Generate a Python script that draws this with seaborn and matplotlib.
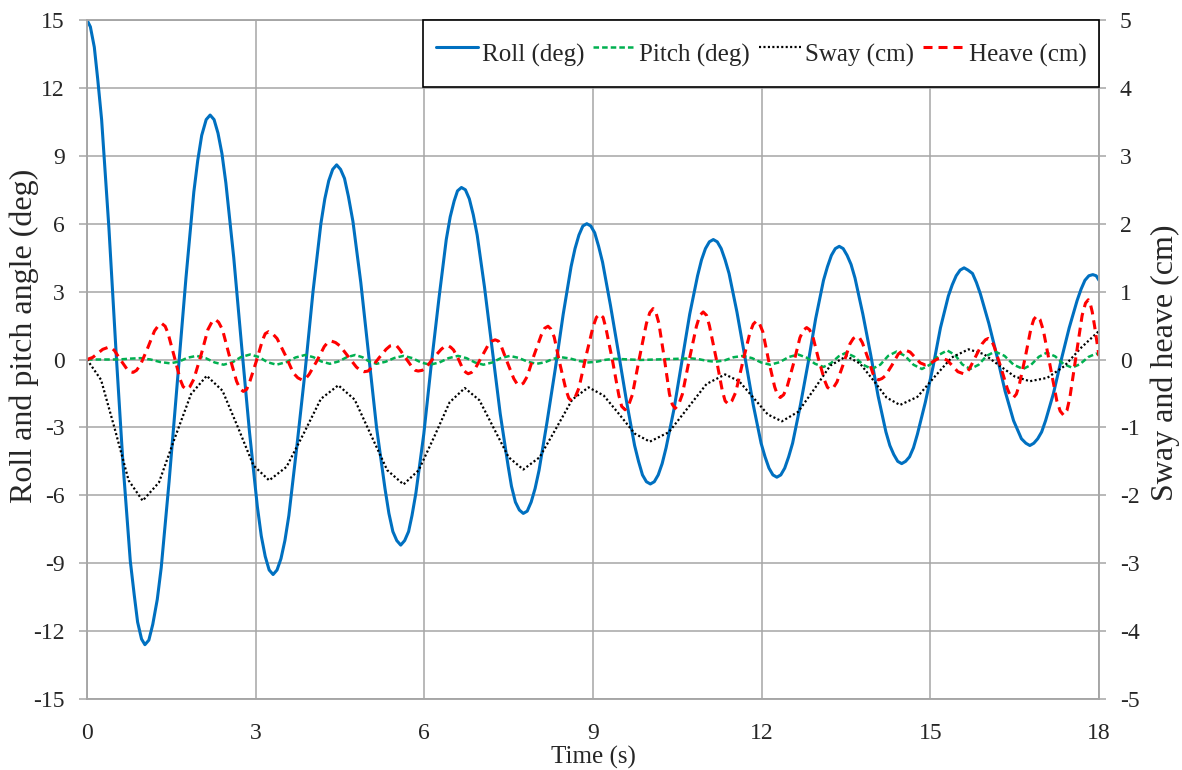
import matplotlib
matplotlib.use("Agg")
import matplotlib.pyplot as plt
import seaborn as sns

# Roll (deg), left axis
roll_t = [0,
          0.06, 0.13, 0.19, 0.26, 0.39, 0.52, 0.64, 0.77, 0.84, 0.90, 0.97, 1.03,
          1.10, 1.17, 1.25, 1.32, 1.46, 1.61, 1.76, 1.90, 1.97, 2.04, 2.12, 2.19,
          2.26, 2.33, 2.40, 2.47, 2.61, 2.75, 2.89, 3.03, 3.10, 3.17, 3.24, 3.31,
          3.38, 3.45, 3.52, 3.59, 3.73, 3.88, 4.02, 4.16, 4.23, 4.30, 4.37, 4.44,
          4.51, 4.58, 4.65, 4.73, 4.87, 5.01, 5.15, 5.30, 5.37, 5.44, 5.51, 5.58,
          5.65, 5.72, 5.78, 5.85, 5.99, 6.12, 6.26, 6.39, 6.46, 6.53, 6.59, 6.66,
          6.73, 6.80, 6.87, 6.94, 7.07, 7.21, 7.35, 7.49, 7.55, 7.62, 7.69, 7.76,
          7.83, 7.90, 7.97, 8.04, 8.18, 8.33, 8.47, 8.61, 8.68, 8.75, 8.82, 8.89,
          8.96, 9.03, 9.10, 9.17, 9.31, 9.46, 9.60, 9.74, 9.81, 9.88, 9.95, 10.02,
          10.09, 10.16, 10.23, 10.30, 10.44, 10.58, 10.72, 10.86, 10.93, 11.00, 11.07, 11.14,
          11.21, 11.28, 11.35, 11.42, 11.56, 11.71, 11.85, 11.99, 12.06, 12.13, 12.20, 12.27,
          12.34, 12.41, 12.48, 12.55, 12.69, 12.83, 12.96, 13.10, 13.17, 13.24, 13.31, 13.38,
          13.45, 13.52, 13.59, 13.66, 13.80, 13.94, 14.07, 14.21, 14.28, 14.35, 14.42, 14.49,
          14.56, 14.63, 14.70, 14.77, 14.91, 15.05, 15.18, 15.32, 15.39, 15.46, 15.53, 15.60,
          15.67, 15.75, 15.82, 15.89, 16.04, 16.19, 16.33, 16.48, 16.55, 16.62, 16.70, 16.77,
          16.84, 16.91, 16.98, 17.05, 17.19, 17.33, 17.47, 17.61, 17.68, 17.75, 17.82, 17.89,
          17.95, 18.00]
roll_deg = [15.0,
            14.7, 13.8, 12.4, 10.6, 5.8, 0.2, -4.6, -8.9, -10.4, -11.6, -12.35, -12.6,
            -12.4, -11.7, -10.6, -9.2, -5.4, -0.9, 3.6, 7.4, 8.8, 9.9, 10.6, 10.8,
            10.6, 10.0, 9.1, 7.8, 4.5, 0.6, -3.2, -6.5, -7.8, -8.7, -9.3, -9.5,
            -9.3, -8.8, -8.0, -6.9, -3.9, -0.5, 3.0, 6.0, 7.1, 7.9, 8.4, 8.6,
            8.4, 8.0, 7.2, 6.1, 3.4, 0.2, -3.0, -5.7, -6.8, -7.6, -8.0, -8.2,
            -8.0, -7.6, -6.9, -5.9, -3.3, -0.3, 2.7, 5.3, 6.3, 7.0, 7.45, 7.6,
            7.5, 7.1, 6.4, 5.5, 3.2, 0.4, -2.4, -4.7, -5.6, -6.3, -6.65, -6.8,
            -6.7, -6.3, -5.7, -4.9, -2.8, -0.4, 2.0, 4.1, 4.9, 5.5, 5.9, 6.0,
            5.9, 5.6, 5.0, 4.3, 2.4, 0.2, -1.9, -3.8, -4.5, -5.1, -5.4, -5.5,
            -5.4, -5.1, -4.6, -3.9, -2.2, -0.1, 2.0, 3.7, 4.4, 4.9, 5.2, 5.3,
            5.2, 4.9, 4.4, 3.8, 2.1, 0.0, -2.0, -3.7, -4.3, -4.8, -5.1, -5.2,
            -5.1, -4.8, -4.3, -3.7, -2.0, -0.1, 1.8, 3.5, 4.1, 4.6, 4.9, 5.0,
            4.9, 4.6, 4.2, 3.6, 2.0, 0.2, -1.6, -3.2, -3.8, -4.2, -4.5, -4.6,
            -4.5, -4.3, -3.9, -3.3, -1.9, -0.3, 1.4, 2.8, 3.3, 3.7, 3.95, 4.05,
            3.95, 3.8, 3.4, 2.9, 1.6, 0.1, -1.4, -2.7, -3.1, -3.5, -3.7, -3.8,
            -3.7, -3.5, -3.2, -2.7, -1.5, 0.0, 1.4, 2.6, 3.1, 3.5, 3.7, 3.75,
            3.7, 3.5]

# Pitch (deg), left axis
pitch_t = [0, 0.45, 0.62, 0.78, 0.95, 1.13, 1.30, 1.48, 1.64, 1.79,
           1.95, 2.11, 2.27, 2.43, 2.59, 2.74, 2.90, 3.06, 3.21, 3.37,
           3.54, 3.71, 3.88, 4.03, 4.17, 4.32, 4.47, 4.62, 4.77, 4.90,
           5.02, 5.15, 5.31, 5.47, 5.63, 5.79, 5.94, 6.10, 6.27, 6.43,
           6.60, 6.75, 6.90, 7.05, 7.21, 7.36, 7.52, 7.68, 7.84, 8.00,
           8.15, 8.29, 8.44, 8.60, 8.76, 8.92, 9.08, 9.23, 9.39, 9.85,
           10.75, 10.89, 11.03, 11.17, 11.34, 11.50, 11.67, 11.83, 11.99, 12.15,
           12.32, 12.48, 12.65, 12.80, 12.95, 13.10, 13.23, 13.37, 13.50, 13.65,
           13.81, 13.96, 14.11, 14.25, 14.40, 14.55, 14.70, 14.85, 15.00, 15.15,
           15.30, 15.44, 15.57, 15.71, 15.86, 16.00, 16.15, 16.32, 16.48, 16.65,
           16.79, 16.93, 17.07, 17.22, 17.37, 17.52, 17.66, 17.81, 17.95, 18.00]
pitch_deg = [0.0, 0.0, 0.01, 0.04, 0.06, 0.0, -0.11, -0.17, -0.09, 0.08,
             0.16, 0.06, -0.13, -0.23, -0.12, 0.11, 0.22, 0.11, -0.12, -0.23,
             -0.12, 0.09, 0.20, 0.10, -0.09, -0.19, -0.09, 0.10, 0.20, 0.10,
             -0.09, -0.19, -0.10, 0.07, 0.16, 0.06, -0.13, -0.23, -0.13, 0.06,
             0.16, 0.06, -0.13, -0.23, -0.13, 0.06, 0.16, 0.07, -0.10, -0.19,
             -0.12, 0.03, 0.10, 0.04, -0.07, -0.13, -0.09, -0.01, 0.03, -0.02,
             0.05, 0.01, -0.06, -0.10, -0.04, 0.10, 0.16, 0.06, -0.13, -0.23,
             -0.12, 0.11, 0.22, 0.08, -0.19, -0.33, -0.17, 0.14, 0.30, 0.12,
             -0.24, -0.42, -0.23, 0.16, 0.35, 0.16, -0.23, -0.42, -0.22, 0.20,
             0.40, 0.20, -0.22, -0.42, -0.23, 0.16, 0.35, 0.16, -0.23, -0.42,
             -0.24, 0.12, 0.30, 0.14, -0.20, -0.36, -0.21, 0.11, 0.26, 0.20]

# Sway (cm), right axis
sway_t = [0, 0.25, 0.50, 0.74, 0.99, 1.28, 1.56, 1.85, 2.13, 2.41, 2.69, 2.96, 3.24,
          3.55, 3.86, 4.16, 4.47, 4.76, 5.05, 5.34, 5.63, 5.90, 6.18, 6.45, 6.72,
          6.98, 7.24, 7.50, 7.76, 8.05, 8.34, 8.63, 8.92, 9.19, 9.47, 9.74, 10.01,
          10.35, 10.68, 11.02, 11.35, 11.60, 11.86, 12.11, 12.36, 12.65, 12.94, 13.22, 13.51,
          13.75, 13.99, 14.22, 14.46, 14.77, 15.07, 15.38, 15.68, 15.95, 16.23, 16.50, 16.77,
          17.08, 17.38, 17.69, 18.00]
sway_cm = [0.0, -0.30, -1.04, -1.78, -2.08, -1.81, -1.16, -0.51, -0.24, -0.46, -1.01, -1.56, -1.78,
           -1.58, -1.08, -0.58, -0.38, -0.59, -1.11, -1.63, -1.84, -1.63, -1.13, -0.63, -0.42,
           -0.60, -1.02, -1.44, -1.62, -1.44, -1.02, -0.59, -0.41, -0.53, -0.81, -1.09, -1.21,
           -1.07, -0.72, -0.36, -0.22, -0.32, -0.57, -0.81, -0.91, -0.77, -0.43, -0.09, 0.05,
           -0.06, -0.31, -0.56, -0.67, -0.55, -0.26, 0.03, 0.15, 0.08, -0.09, -0.25, -0.32,
           -0.27, -0.10, 0.18, 0.42]

# Heave (cm), right axis
heave_t = [0, 0.10, 0.19, 0.28, 0.38,
           0.44, 0.49, 0.60, 0.71, 0.77, 0.82,
           0.88, 0.95, 1.08, 1.20, 1.27, 1.33,
           1.39, 1.44, 1.55, 1.66, 1.71, 1.77,
           1.83, 1.90, 2.03, 2.15, 2.22, 2.28,
           2.34, 2.41, 2.53, 2.66, 2.72, 2.78,
           2.84, 2.89, 3.01, 3.12, 3.17, 3.23,
           3.30, 3.38, 3.53, 3.67, 3.75, 3.82,
           3.89, 3.95, 4.09, 4.22, 4.28, 4.35,
           4.42, 4.50, 4.64, 4.79, 4.86, 4.93,
           5.00, 5.06, 5.19, 5.32, 5.39, 5.45,
           5.51, 5.56, 5.67, 5.78, 5.84, 5.89,
           5.96, 6.03, 6.16, 6.30, 6.36, 6.43,
           6.47, 6.52, 6.61, 6.69, 6.74, 6.78,
           6.84, 6.90, 7.02, 7.14, 7.20, 7.26,
           7.32, 7.37, 7.48, 7.59, 7.65, 7.70,
           7.76, 7.83, 7.95, 8.08, 8.14, 8.20,
           8.25, 8.31, 8.41, 8.52, 8.57, 8.62,
           8.68, 8.75, 8.87, 9.00, 9.06, 9.12,
           9.18, 9.23, 9.35, 9.46, 9.51, 9.57,
           9.63, 9.70, 9.82, 9.95, 10.01, 10.07,
           10.12, 10.17, 10.27, 10.36, 10.41, 10.46,
           10.52, 10.59, 10.71, 10.84, 10.90, 10.96,
           11.02, 11.07, 11.19, 11.30, 11.35, 11.41,
           11.47, 11.54, 11.66, 11.79, 11.85, 11.91,
           11.96, 12.02, 12.12, 12.23, 12.28, 12.33,
           12.39, 12.45, 12.57, 12.68, 12.74, 12.80,
           12.85, 12.91, 13.01, 13.12, 13.17, 13.22,
           13.28, 13.34, 13.46, 13.57, 13.63, 13.69,
           13.74, 13.79, 13.89, 13.98, 14.03, 14.08,
           14.14, 14.20, 14.32, 14.43, 14.49, 14.55,
           14.64, 14.73, 14.82, 14.91,
           14.98, 15.05, 15.13, 15.20,
           15.30, 15.40, 15.49, 15.59,
           15.65, 15.70, 15.81, 15.92, 15.98, 16.03,
           16.09, 16.14, 16.26, 16.37, 16.42, 16.48,
           16.53, 16.58, 16.69, 16.79, 16.84, 16.89,
           16.95, 17.01, 17.13, 17.25, 17.31, 17.37,
           17.43, 17.48, 17.59, 17.70, 17.76, 17.81,
           17.84, 17.88, 17.92, 17.96, 18.00]
heave_cm = [0.0, 0.03, 0.09, 0.15, 0.18,
            0.17, 0.13, -0.01, -0.14, -0.18, -0.19,
            -0.16, -0.08, 0.17, 0.42, 0.50, 0.53,
            0.49, 0.39, 0.05, -0.30, -0.40, -0.44,
            -0.40, -0.29, 0.07, 0.44, 0.55, 0.59,
            0.55, 0.44, 0.06, -0.32, -0.43, -0.47,
            -0.44, -0.34, -0.03, 0.28, 0.38, 0.41,
            0.38, 0.31, 0.06, -0.20, -0.27, -0.30,
            -0.28, -0.22, -0.02, 0.19, 0.25, 0.27,
            0.25, 0.20, 0.05, -0.11, -0.16, -0.18,
            -0.17, -0.12, 0.02, 0.15, 0.20, 0.21,
            0.20, 0.15, 0.02, -0.11, -0.16, -0.17,
            -0.16, -0.12, 0.02, 0.15, 0.19, 0.20,
            0.18, 0.14, 0.00, -0.15, -0.19, -0.21,
            -0.19, -0.14, 0.04, 0.22, 0.27, 0.29,
            0.27, 0.19, -0.05, -0.28, -0.36, -0.38,
            -0.35, -0.25, 0.06, 0.36, 0.46, 0.49,
            0.45, 0.33, -0.06, -0.45, -0.57, -0.61,
            -0.56, -0.42, 0.03, 0.48, 0.62, 0.67,
            0.62, 0.46, -0.03, -0.53, -0.69, -0.74,
            -0.68, -0.52, 0.00, 0.53, 0.69, 0.75,
            0.69, 0.54, 0.01, -0.51, -0.66, -0.72,
            -0.67, -0.51, -0.01, 0.49, 0.65, 0.70,
            0.65, 0.50, 0.02, -0.46, -0.61, -0.66,
            -0.61, -0.48, -0.05, 0.39, 0.52, 0.57,
            0.53, 0.41, 0.00, -0.40, -0.52, -0.56,
            -0.52, -0.41, -0.05, 0.32, 0.43, 0.47,
            0.44, 0.34, 0.01, -0.31, -0.41, -0.44,
            -0.41, -0.33, -0.05, 0.23, 0.31, 0.34,
            0.32, 0.25, 0.02, -0.21, -0.28, -0.30,
            -0.28, -0.24, -0.08, 0.08, 0.12, 0.14,
            0.11, 0.03, -0.05, -0.08,
            -0.07, -0.03, 0.01, 0.02,
            -0.01, -0.10, -0.18, -0.21,
            -0.19, -0.13, 0.05, 0.23, 0.29, 0.31,
            0.28, 0.18, -0.13, -0.43, -0.53, -0.56,
            -0.51, -0.38, 0.04, 0.46, 0.59, 0.64,
            0.59, 0.43, -0.09, -0.61, -0.76, -0.82,
            -0.75, -0.57, 0.04, 0.65, 0.83, 0.88,
            0.84, 0.70, 0.50, 0.28, 0.05]

labels = ["Roll (deg)", "Pitch (deg)", "Sway (cm)", "Heave (cm)"]

sns.set_style("white")
plt.rcParams['font.family'] = ['Liberation Serif', 'DejaVu Serif']
plt.rcParams['axes.unicode_minus'] = False
plt.rcParams['lines.scale_dashes'] = False

grey = '#A6A6A6'

fig, ax = plt.subplots(figsize=(11.82, 7.70), dpi=100)
fig.subplots_adjust(left=87/1182, right=1099/1182, top=1-20/770, bottom=1-699/770)
ax2 = ax.twinx()

sns.lineplot(x=roll_t, y=roll_deg, ax=ax, color='#0070C0', linewidth=2.2,
             estimator=None, errorbar=None)
l_roll = ax.lines[-1]
sns.lineplot(x=pitch_t, y=pitch_deg, ax=ax, color='#00B050', linewidth=1.8,
             estimator=None, errorbar=None)
l_pitch = ax.lines[-1]
l_pitch.set_dashes((4.0, 2.2))

sns.lineplot(x=sway_t, y=sway_cm, ax=ax2, color='black', linewidth=1.6,
             estimator=None, errorbar=None)
l_sway = ax2.lines[-1]
l_sway.set_dashes((1.5, 1.7))
sns.lineplot(x=heave_t, y=heave_cm, ax=ax2, color='#FF0000', linewidth=2.2,
             estimator=None, errorbar=None)
l_heave = ax2.lines[-1]
l_heave.set_dashes((6.5, 4.3))

ax.set_xlim(0, 18)
ax.set_ylim(-15, 15)
ax2.set_ylim(-5, 5)
ax.set_xticks(range(0, 19, 3))
ax.set_yticks(range(-15, 16, 3))
ax2.set_yticks(range(-5, 6, 1))

ax.grid(True, color=grey, linewidth=1.1)
ax2.grid(False)
ax.set_axisbelow(True)
for a in (ax, ax2):
    for s in a.spines.values():
        s.set_color(grey)
        s.set_linewidth(1.1)

ax.tick_params(axis='y', direction='out', length=6, width=1.1, color=grey,
               labelsize=17, pad=10, left=True)
ax.tick_params(axis='x', length=0, labelsize=17, pad=17)
ax2.tick_params(axis='y', direction='out', length=5, width=1.1, color=grey,
                labelsize=17, pad=10, right=True)

ax.set_xlabel("Time (s)", fontsize=18)
ax.xaxis.set_label_coords(0.5, -0.069)
ax.set_ylabel("Roll and pitch angle (deg)", fontsize=23)
ax.yaxis.set_label_coords(-0.047, 0.535)
ax2.set_ylabel("Sway and heave (cm)", fontsize=23)
ax2.yaxis.set_label_coords(1.051, 0.495)

leg = ax2.legend([l_roll, l_pitch, l_sway, l_heave], labels,
                 loc='upper right', bbox_to_anchor=(1, 1), borderaxespad=0,
                 ncol=4, fontsize=18, frameon=True, fancybox=False,
                 edgecolor='black', framealpha=1, handlelength=1.68,
                 handletextpad=0.16, columnspacing=0.36, borderpad=0.5,
                 handleheight=2.2)
leg.get_frame().set_linewidth(1.2)

fig.savefig("out.png", dpi=100)
